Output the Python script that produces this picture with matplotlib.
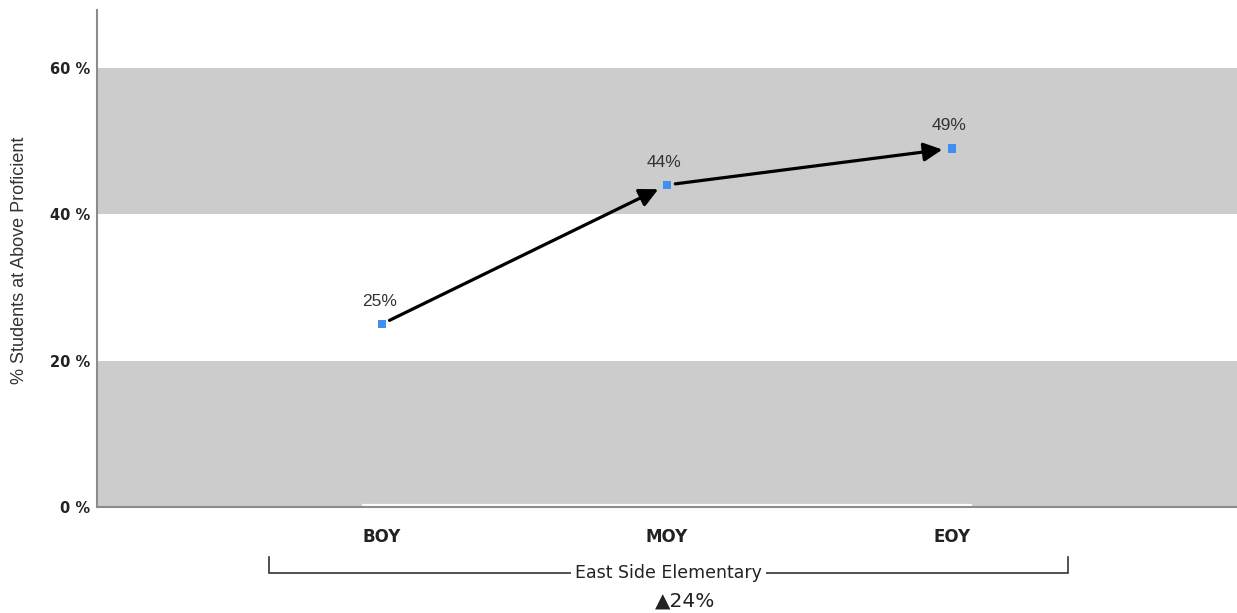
import matplotlib
matplotlib.use("Agg")
import matplotlib.pyplot as plt
from matplotlib.transforms import blended_transform_factory

# Data
periods = ["BOY", "MOY", "EOY"]
pct_proficient = [25, 44, 49]
school = "East Side Elementary"
growth_label = "\u25B224%"
y_ticks = [0, 20, 40, 60]
band_ranges = [(0, 20), (40, 60)]

fig = plt.figure(figsize=(12.37, 6.13), dpi=100)
ax = fig.add_axes([97 / 1237, 1 - 507 / 613, 1 - 97 / 1237, 497 / 613])

x = list(range(len(periods)))
ax.set_xlim(-1, 3)
ax.set_ylim(0, 67.9)

# alternating grey bands
for lo, hi in band_ranges:
    ax.axhspan(lo, hi, color="#cccccc", lw=0, zorder=0)

# thin zero-line of the series region
ax.plot([-0.07, 2.07], [0.25, 0.25], color="white", lw=1.6, zorder=1,
        solid_capstyle="butt")

# arrows between consecutive periods
for i in range(len(x) - 1):
    ax.annotate("", xy=(x[i + 1], pct_proficient[i + 1]),
                xytext=(x[i], pct_proficient[i]),
                arrowprops=dict(arrowstyle="-|>", color="black", lw=2.3,
                                mutation_scale=28, shrinkA=6, shrinkB=7),
                zorder=3)

ax.scatter(x, pct_proficient, marker="s", s=38, color="#3f8ef0",
           edgecolors="none", zorder=4)

for xi, v in zip(x, pct_proficient):
    ax.annotate(f"{v}%", (xi, v), xytext=(-2, 11), textcoords="offset points",
                ha="center", va="bottom", fontsize=12.5,
                family="Liberation Sans", color="#333333")

# axes styling
for side in ("top", "right"):
    ax.spines[side].set_visible(False)
for side in ("left", "bottom"):
    ax.spines[side].set_color("#8c8c8c")
    ax.spines[side].set_linewidth(1.5)

ax.set_yticks(y_ticks)
ax.set_yticklabels([f"{t} %" for t in y_ticks])
ax.set_xticks(x)
ax.set_xticklabels(periods)
ax.tick_params(axis="y", length=0, pad=5, labelsize=10.5, labelcolor="#222222")
ax.tick_params(axis="x", length=0, pad=15, labelsize=12, labelcolor="#222222")
for lbl in ax.get_xticklabels() + ax.get_yticklabels():
    lbl.set_fontweight("bold")

fig.text(20 / 1237, 1 - 260 / 613, "% Students at Above Proficient",
         rotation=90, ha="center", va="center", fontsize=13,
         family="Liberation Sans", color="#333333")

# group bracket under the categories
tr = blended_transform_factory(ax.transData, ax.transAxes)
bx0, bx1 = -0.396, 2.406
yb, yt = -0.133, -0.101
ax.plot([bx0, bx0, bx1, bx1], [yt, yb, yb, yt], color="#333333", lw=1.2,
        transform=tr, clip_on=False, solid_joinstyle="miter")
ax.text((bx0 + bx1) / 2, yb, school, transform=tr, ha="center", va="center",
        fontsize=12.5, color="#222222",
        bbox=dict(facecolor="white", edgecolor="none", pad=3))
ax.text((bx0 + bx1) / 2 + 0.06, -0.189, growth_label, transform=tr,
        ha="center", va="center", fontsize=14.5, color="#222222")

fig.savefig("out.png", dpi=100)
